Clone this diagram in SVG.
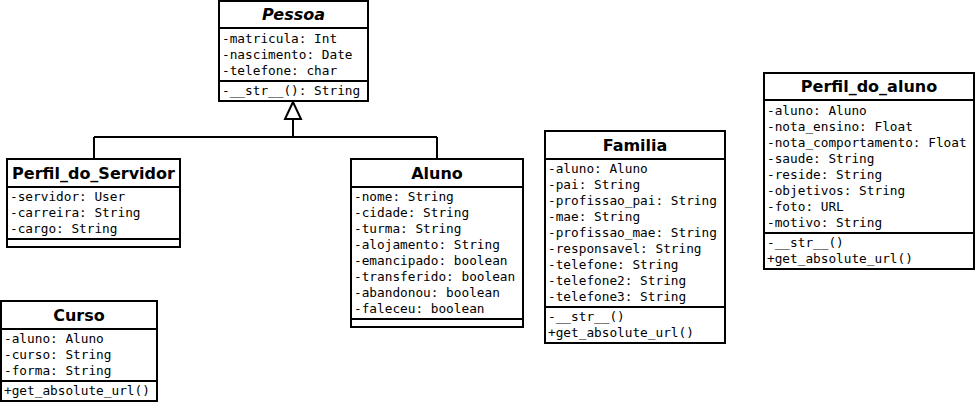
<svg xmlns="http://www.w3.org/2000/svg" width="977" height="403" viewBox="0 0 977 403">
<style>
.box{fill:#fff;stroke:#000;stroke-width:2}
.div{stroke:#000;stroke-width:2;fill:none}
.t{font-family:"DejaVu Sans",sans-serif;font-weight:bold;font-size:16px;text-anchor:middle;fill:#000}
.ti{font-style:italic}
.a{font-family:"DejaVu Sans Mono",monospace;font-size:12.75px;fill:#000}
.c{stroke:#000;stroke-width:2;fill:none}
</style>
<rect width="977" height="403" fill="#fff"/>
<g id="connectors">
<path class="c" d="M293,119 V137 M94,137 H437 M94,137 V159 M437,137 V159"/>
<polygon points="293,102 285,119 301,119" fill="#fff" stroke="#000" stroke-width="2"/>
</g>
<g id="Pessoa">
<rect class="box" x="219" y="1" width="149" height="100"/>
<path class="div" d="M219,28 H368 M219,81 H368"/>
<text class="t ti" x="293.5" y="20">Pessoa</text>
<text class="a" x="222" y="43">-matricula: Int</text>
<text class="a" x="222" y="59">-nascimento: Date</text>
<text class="a" x="222" y="75">-telefone: char</text>
<text class="a" x="222" y="95">-__str__(): String</text>
</g>
<g id="Perfil_do_Servidor">
<rect class="box" x="7" y="159" width="173" height="88"/>
<path class="div" d="M7,187 H180 M7,239 H180"/>
<text class="t" x="93.5" y="179">Perfil_do_Servidor</text>
<text class="a" x="10" y="201">-servidor: User</text>
<text class="a" x="10" y="217">-carreira: String</text>
<text class="a" x="10" y="233">-cargo: String</text>
</g>
<g id="Curso">
<rect class="box" x="1" y="301" width="156" height="100"/>
<path class="div" d="M1,329 H157 M1,381 H157"/>
<text class="t" x="79" y="321">Curso</text>
<text class="a" x="4" y="343">-aluno: Aluno</text>
<text class="a" x="4" y="359">-curso: String</text>
<text class="a" x="4" y="375">-forma: String</text>
<text class="a" x="4" y="395">+get_absolute_url()</text>
</g>
<g id="Aluno">
<rect class="box" x="351" y="159" width="172" height="168"/>
<path class="div" d="M351,187 H523 M351,319 H523"/>
<text class="t" x="437" y="179">Aluno</text>
<text class="a" x="354" y="201">-nome: String</text>
<text class="a" x="354" y="217">-cidade: String</text>
<text class="a" x="354" y="233">-turma: String</text>
<text class="a" x="354" y="249">-alojamento: String</text>
<text class="a" x="354" y="265">-emancipado: boolean</text>
<text class="a" x="354" y="281">-transferido: boolean</text>
<text class="a" x="354" y="297">-abandonou: boolean</text>
<text class="a" x="354" y="313">-faleceu: boolean</text>
</g>
<g id="Familia">
<rect class="box" x="545" y="131" width="180" height="212"/>
<path class="div" d="M545,159 H725 M545,307 H725"/>
<text class="t" x="635" y="151">Familia</text>
<text class="a" x="548" y="173">-aluno: Aluno</text>
<text class="a" x="548" y="189">-pai: String</text>
<text class="a" x="548" y="205">-profissao_pai: String</text>
<text class="a" x="548" y="221">-mae: String</text>
<text class="a" x="548" y="237">-profissao_mae: String</text>
<text class="a" x="548" y="253">-responsavel: String</text>
<text class="a" x="548" y="269">-telefone: String</text>
<text class="a" x="548" y="285">-telefone2: String</text>
<text class="a" x="548" y="301">-telefone3: String</text>
<text class="a" x="548" y="321">-__str__()</text>
<text class="a" x="548" y="337">+get_absolute_url()</text>
</g>
<g id="Perfil_do_aluno">
<rect class="box" x="764" y="73" width="210" height="196"/>
<path class="div" d="M764,100 H974 M764,233 H974"/>
<text class="t" x="869" y="92">Perfil_do_aluno</text>
<text class="a" x="767" y="115">-aluno: Aluno</text>
<text class="a" x="767" y="131">-nota_ensino: Float</text>
<text class="a" x="767" y="147">-nota_comportamento: Float</text>
<text class="a" x="767" y="163">-saude: String</text>
<text class="a" x="767" y="179">-reside: String</text>
<text class="a" x="767" y="195">-objetivos: String</text>
<text class="a" x="767" y="211">-foto: URL</text>
<text class="a" x="767" y="227">-motivo: String</text>
<text class="a" x="767" y="247">-__str__()</text>
<text class="a" x="767" y="263">+get_absolute_url()</text>
</g>
</svg>
